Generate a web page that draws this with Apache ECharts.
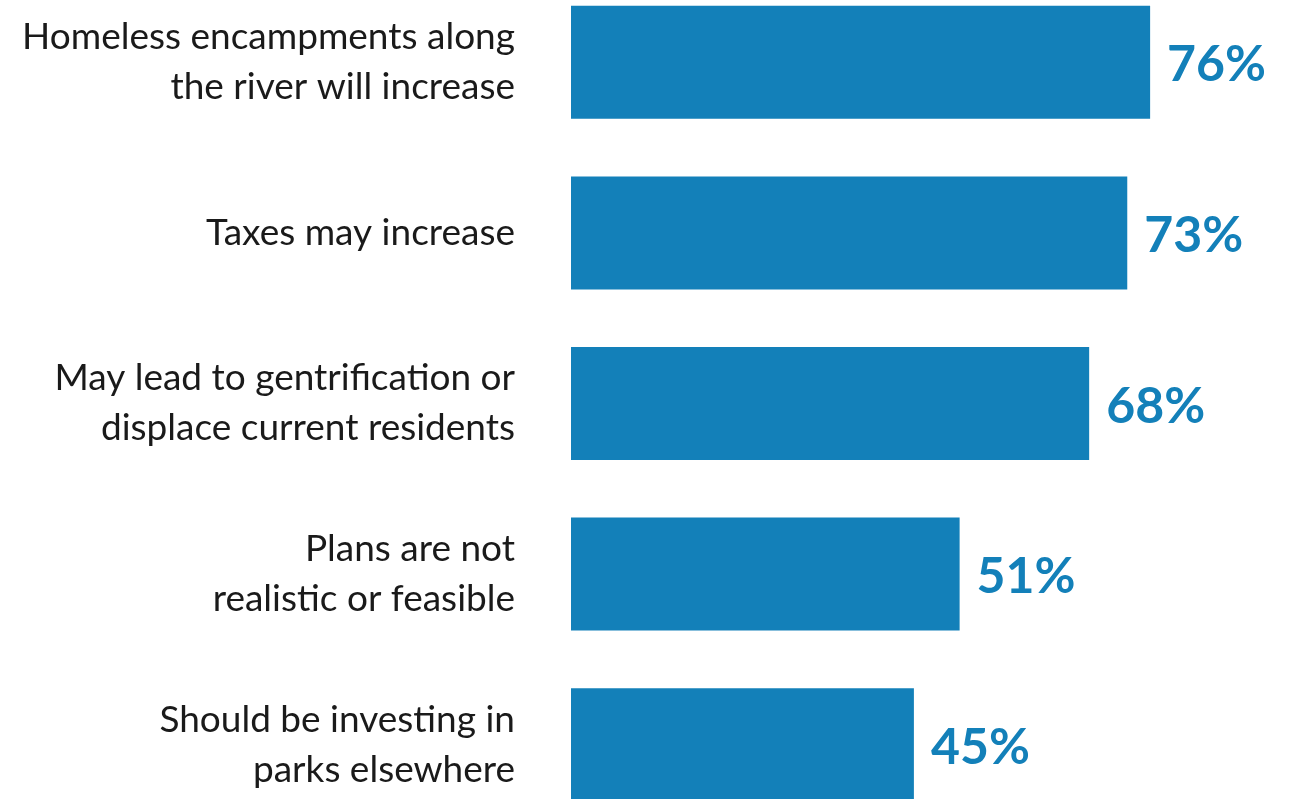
<!DOCTYPE html>
<html>
<head>
<meta charset="utf-8">
<script src="https://cdn.jsdelivr.net/npm/echarts@6/dist/echarts.min.js"></script>
<style>
  html, body { margin: 0; padding: 0; background: #ffffff; overflow: hidden; }
  /* the last bar runs off the bottom edge, so the canvas extends past the view */
  #chart { position: absolute; left: 0; top: -23px; width: 1340px; height: 856px; }
</style>
</head>
<body>
<div id="chart"></div>
<script>
// Concerns about the riverfront plans, share of respondents
const categories = [
  'Homeless encampments along\nthe river will increase',
  'Taxes may increase',
  'May lead to gentrification or\ndisplace current residents',
  'Plans are not\nrealistic or feasible',
  'Should be investing in\nparks elsewhere'
];
const values = [76, 73, 68, 51, 45];

const barColor = '#1380b9';

const chart = echarts.init(document.getElementById('chart'));
chart.setOption({
  animation: false,
  grid: { left: 571, width: 762, top: 0, height: 853 },
  xAxis: {
    type: 'value', min: 0, max: 100, show: false
  },
  yAxis: {
    type: 'category',
    data: categories,
    inverse: true,
    axisLine: { show: false },
    axisTick: { show: false },
    axisLabel: {
      margin: 56,
      align: 'right',
      color: '#1a1a1a',
      fontFamily: 'Lato',
      fontSize: 37,
      lineHeight: 50,
      padding: [6, 0, 0, 0]
    }
  },
  series: [{
    type: 'bar',
    data: values,
    barWidth: 113,
    itemStyle: { color: barColor },
    label: {
      show: true,
      position: 'right',
      distance: 17,
      offset: [0, 3],
      formatter: '{c}%',
      color: barColor,
      fontFamily: 'Lato',
      fontWeight: 'bold',
      fontSize: 50
    }
  }]
});
</script>
</body>
</html>
